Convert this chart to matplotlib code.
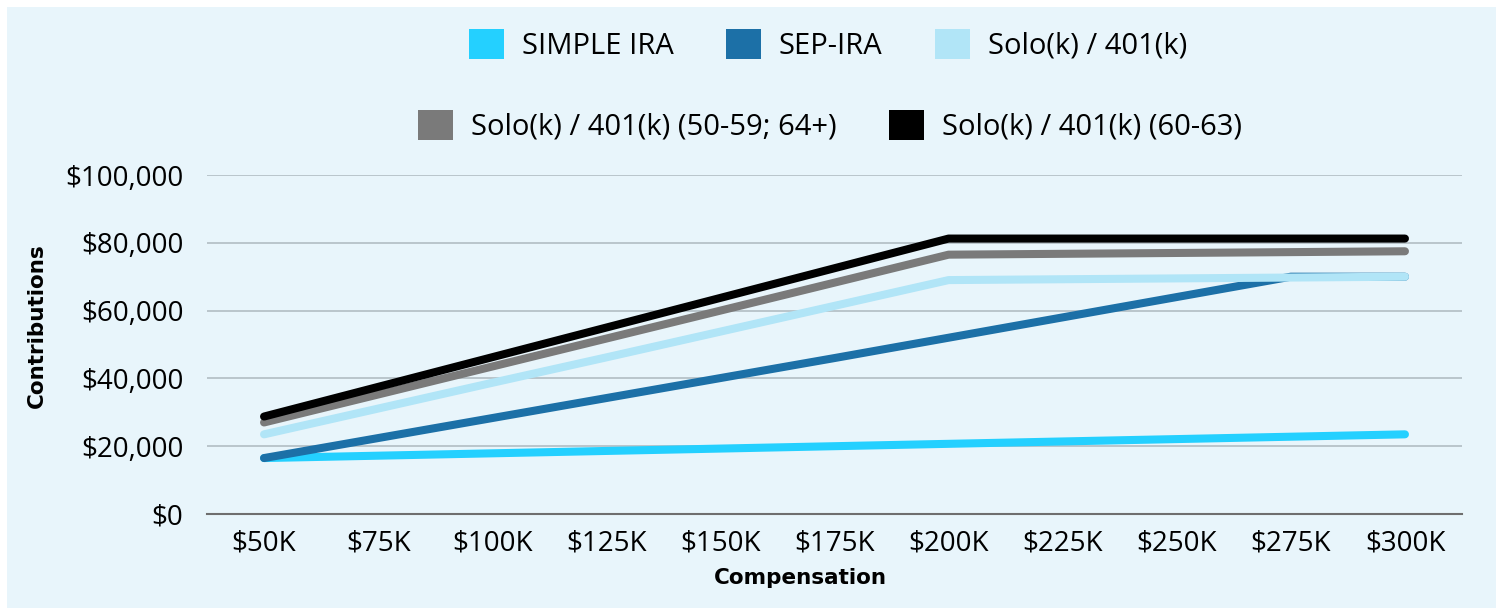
import numpy as np
import matplotlib.pyplot as plt
from matplotlib.patches import Patch, Rectangle
from matplotlib.ticker import FuncFormatter

plt.rcParams['font.family'] = ['Open Sans', 'DejaVu Sans']

# data
compensation = ['$50K', '$75K', '$100K', '$125K', '$150K', '$175K',
                '$200K', '$225K', '$250K', '$275K', '$300K']
simple_ira = [16500, 17200, 17900, 18600, 19300, 20000, 20700, 21400, 22100, 22800, 23500]
sep_ira = [16500, 22400, 28300, 34200, 40100, 46000, 52000, 58000, 64000, 70000, 70000]
solo_k = [23500, 31100, 38700, 46200, 53800, 61400, 69000, 69250, 69500, 69750, 70000]
solo_k_50 = [27000, 35250, 43500, 51750, 60000, 68250, 76500, 76750, 77000, 77250, 77500]
solo_k_60 = [28750, 37500, 46250, 55000, 63750, 72500, 81250, 81250, 81250, 81250, 81250]

series = [
    ('SIMPLE IRA', simple_ira, '#24d0ff'),
    ('SEP-IRA', sep_ira, '#1c70a7'),
    ('Solo(k) / 401(k)', solo_k, '#b1e5f7'),
    ('Solo(k) / 401(k) (50-59; 64+)', solo_k_50, '#7a7a7a'),
    ('Solo(k) / 401(k) (60-63)', solo_k_60, '#000000'),
]

bg = '#e8f5fb'
fig = plt.figure(figsize=(15.01, 6.08), dpi=100)
fig.patch.set_facecolor('white')
fig.patches.append(Rectangle((7 / 1501, 0), 1489 / 1501, 601 / 608,
                             transform=fig.transFigure, facecolor=bg,
                             edgecolor='none', zorder=-10))

ax = fig.add_axes([207 / 1501, 94 / 608, 1255 / 1501, 339 / 608])
ax.set_facecolor('none')

x = np.arange(len(compensation))
for name, vals, col in series:
    ax.plot(x, vals, color=col, lw=5.8, solid_capstyle='round',
            solid_joinstyle='round', label=name)

ax.set_xlim(-0.5, len(compensation) - 0.5)
ax.set_ylim(0, 100000)
ax.set_yticks(np.arange(0, 100001, 20000))
ax.yaxis.set_major_formatter(FuncFormatter(lambda v, p: f'${v:,.0f}'))
ax.set_xticks(x)
ax.set_xticklabels(compensation)
ax.tick_params(axis='both', length=0, labelsize=20, colors='black')
ax.tick_params(axis='y', pad=17)
ax.tick_params(axis='x', pad=11)
ax.grid(axis='y', color='#b6c2c8', lw=1.3)
ax.set_axisbelow(True)
for s in ['top', 'right', 'left']:
    ax.spines[s].set_visible(False)
ax.spines['bottom'].set_color('#6e6e6e')
ax.spines['bottom'].set_linewidth(1.5)

fig.text(37 / 1501, 1 - 326 / 608, 'Contributions', rotation=90, fontsize=15.5,
         fontweight='bold', family='DejaVu Sans', ha='center', va='center')
fig.text(800 / 1501, 1 - 578 / 608, 'Compensation', fontsize=15.5,
         fontweight='bold', family='DejaVu Sans', ha='center', va='center')

handles = [Patch(facecolor=c, edgecolor='none') for _, _, c in series]
labels = [n for n, _, _ in series]
leg_kw = dict(frameon=False, fontsize=21, handlelength=1.2, handleheight=1.2,
              handletextpad=0.62, columnspacing=1.8, loc='center')
leg1 = fig.legend(handles[:3], labels[:3], ncol=3,
                  bbox_to_anchor=(828 / 1501, 1 - 45 / 608), **leg_kw)
leg2 = fig.legend(handles[3:], labels[3:], ncol=2,
                  bbox_to_anchor=(830 / 1501, 1 - 126 / 608), **leg_kw)

fig.savefig('out.png', dpi=100, facecolor=fig.get_facecolor())
